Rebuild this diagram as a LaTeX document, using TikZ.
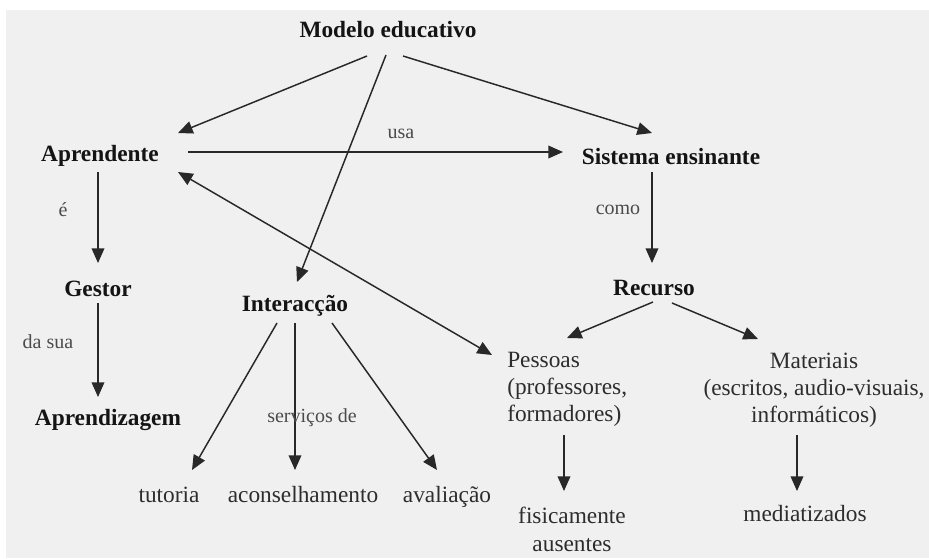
\documentclass[tikz,border=0pt]{standalone}
\usepackage{fontspec}
\setmainfont{Liberation Serif}
\usetikzlibrary{arrows.meta,calc}
\definecolor{paper}{RGB}{240,240,240}
\definecolor{ink}{RGB}{20,20,20}
\definecolor{softink}{RGB}{45,45,45}
\definecolor{labelink}{RGB}{75,75,75}
\definecolor{lineink}{RGB}{40,40,40}
\tikzset{
  concept/.style={inner sep=0pt, text=ink, font=\fontsize{17.5}{20.25}\selectfont\bfseries},
  plain/.style={inner sep=0pt, text=softink, font=\fontsize{17.5}{20.25}\selectfont},
  oneline/.style={text height=12pt, text depth=4pt},
  linklabel/.style={inner sep=0pt, text=labelink, font=\fontsize{15}{18}\selectfont},
  arr/.style={draw=lineink, line width=1.1pt, -{Triangle[length=11pt,width=9.5pt]}},
  dblarr/.style={draw=lineink, line width=1.1pt, {Triangle[length=11pt,width=9.5pt]}-{Triangle[length=11pt,width=9.5pt]}}
}
\begin{document}
\begin{tikzpicture}[x=0.75pt,y=-0.75pt]
\useasboundingbox (0,0) rectangle (929,558);
\fill[white] (0,0) rectangle (929,558);
\fill[paper] (6,10) rectangle (929,558);

% concepts
\node[concept] (modelo) at (388,30) {Modelo educativo};
\node[concept] (aprendente) at (100,156) {Aprendente};
\node[concept] (sistema) at (671,157) {Sistema ensinante};
\node[concept] (gestor) at (98,289) {Gestor};
\node[concept] (aprendizagem) at (108,420) {Aprendizagem};
\node[concept] (interaccao) at (295,306) {Interacção};
\node[concept] (recurso) at (654,288) {Recurso};

\node[plain, anchor=west, align=left] (pessoas) at (507,389) {Pessoas\\(professores,\\formadores)};
\node[plain, align=center] (materiais) at (814,390) {Materiais\\(escritos, audio-visuais,\\informáticos)};
\node[plain, oneline] (tutoria) at (169,497) {tutoria};
\node[plain, oneline] (aconselhamento) at (303,497) {aconselhamento};
\node[plain, oneline] (avaliacao) at (447,497) {avaliação};
\node[plain, align=center, font=\fontsize{17.5}{21}\selectfont] (fisicamente) at (572,529) {fisicamente\\ausentes};
\node[plain, oneline] (mediatizados) at (805,516) {mediatizados};

% link labels
\node[linklabel] (lusa) at (401,134) {usa};
\node[linklabel] (le) at (63,210) {é};
\node[linklabel] (lcomo) at (618,210) {como};
\node[linklabel] (ldasua) at (48,342) {da sua};

% connectors
\draw[arr] ($(modelo)+(-21,26)$) -- ($(aprendente)+(78,-23)$);
\draw[arr] ($(modelo)+(-2,25)$) -- ($(interaccao)+(2,-24)$);
\draw[arr] ($(modelo)+(15,26)$) -- ($(sistema)+(-19,-24)$);
\draw[arr] ($(aprendente)+(88,-4)$) -- ($(sistema)+(-108,-5)$);
\draw[dblarr] ($(aprendente)+(78,16)$) -- ($(pessoas.west)+(-15,-34)$);
\draw[arr] ($(aprendente)+(-2,16)$) -- ($(gestor)+(0,-26)$);
\draw[arr] ($(gestor)+(0,14)$) -- ($(aprendizagem)+(-10,-23)$);
\draw[arr] ($(sistema)+(-19,15)$) -- ($(recurso)+(-2,-25)$);
\draw[arr] ($(recurso)+(-1,14)$) -- ($(pessoas.west)+(60,-51)$);
\draw[arr] ($(recurso)+(18,15)$) -- ($(materiais)+(-56,-51)$);
\draw[arr] ($(interaccao)+(-18,17)$) -- ($(tutoria)+(23,-27)$);
\draw[arr] ($(interaccao)+(0,17)$) -- ($(aconselhamento)+(-8,-27)$);
\draw[arr] ($(interaccao)+(37,17)$) -- ($(avaliacao)+(-10,-27)$);
\draw[arr] ($(pessoas.west)+(57,46)$) -- ($(fisicamente)+(-8,-38)$);
\draw[arr] ($(materiais)+(-17,45)$) -- ($(mediatizados)+(-8,-25)$);

\node[linklabel] (lservicos) at (312,418) {serviços de};
\end{tikzpicture}
\end{document}
